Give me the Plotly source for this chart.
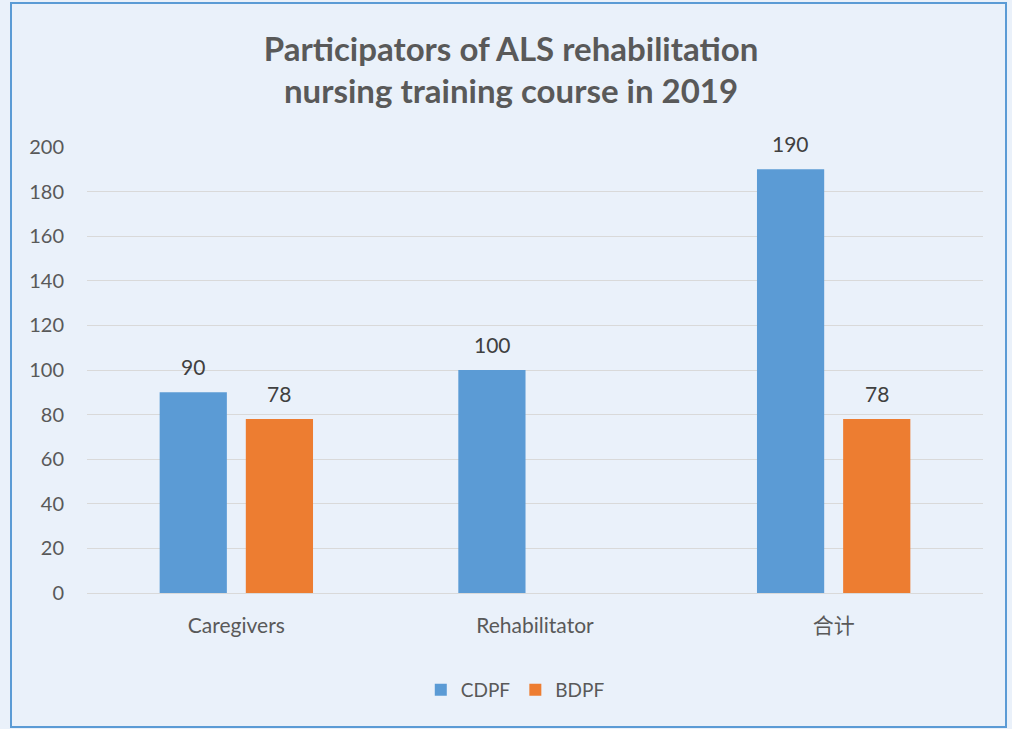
import plotly.graph_objects as go

categories = ["Caregivers", "Rehabilitator", "合计"]
cdpf = [90, 100, 190]
bdpf = [78, None, 78]
series_names = ["CDPF", "BDPF"]
title_text = "Participators of ALS rehabilitation<br>nursing training course in 2019"

font_family = "Lato, 'Noto Sans CJK SC', sans-serif"
colors = ["#5B9BD5", "#ED7D31"]

fig = go.Figure()
for name, vals, color in [(series_names[0], cdpf, colors[0]), (series_names[1], bdpf, colors[1])]:
    fig.add_trace(go.Bar(
        x=categories, y=vals, name=name, marker_color=color,
        marker_line_width=0,
    ))

# data labels as annotations (offset to grouped bar positions)
for vals, dx in [(cdpf, -43), (bdpf, 43)]:
    for c, v in zip(categories, vals):
        if v is None:
            continue
        fig.add_annotation(x=c, y=v, text=str(v), showarrow=False, xshift=dx,
                           yanchor="bottom", yshift=11,
                           font=dict(size=21, color="#404040", family=font_family))

fig.update_layout(
    width=1012, height=729,
    paper_bgcolor="#EAF1FA", plot_bgcolor="rgba(0,0,0,0)",
    margin=dict(l=87, r=29, t=147, b=136),
    barmode="group", bargap=0.423, bargroupgap=0.22,
    font=dict(family=font_family, color="#595959", size=20),
    title=dict(text="<b>" + title_text + "</b>", x=0.505, xanchor="center",
               y=0.917, yanchor="middle",
               font=dict(size=33, color="#595959", family=font_family)),
    legend=dict(orientation="h", x=0.478, xanchor="center", y=-0.217, yanchor="middle",
                font=dict(size=19, color="#595959"), bgcolor="rgba(0,0,0,0)",
                itemwidth=30, traceorder="normal"),
    showlegend=True,
)
fig.update_yaxes(range=[0, 200], dtick=20, showgrid=True, gridcolor="#D9D9D9", gridwidth=1,
                 zeroline=False, showline=False, ticks="", ticklabelstandoff=22,
                 tickfont=dict(size=20, color="#595959"))
fig.update_xaxes(showline=True, linecolor="#D9D9D9", linewidth=1, ticks="outside", ticklen=14,
                 tickcolor="rgba(0,0,0,0)", tickfont=dict(size=21, color="#595959"))

fig.add_shape(type="rect", xref="paper", yref="paper",
              x0=(11 - 87) / 896, x1=(1006 - 87) / 896,
              y0=(593 - 727) / 446, y1=(593 - 3) / 446,
              line=dict(color="#5B9BD5", width=2), fillcolor="rgba(0,0,0,0)", layer="below")

fig.write_html("out.html", config={"displayModeBar": False},
               post_script="document.body.style.margin='0';document.body.style.overflow='hidden';")
